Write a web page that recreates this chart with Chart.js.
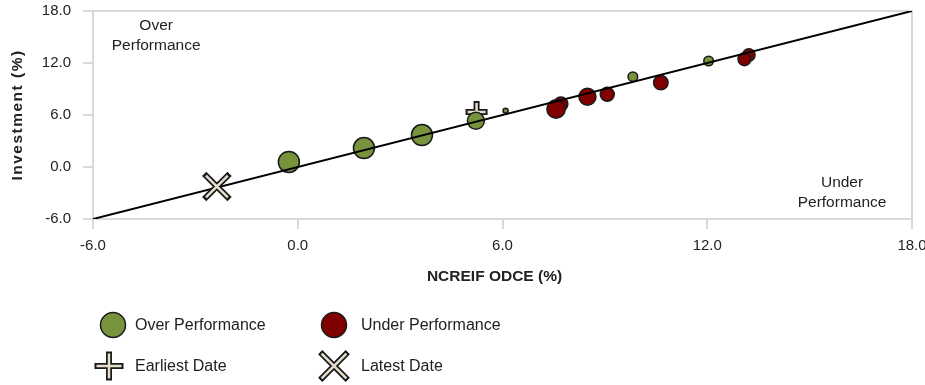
<!DOCTYPE html>
<html>
<head>
<meta charset="utf-8">
<script src="https://cdn.jsdelivr.net/npm/chart.js@4.4.1/dist/chart.umd.min.js"></script>
<style>
	body { margin: 0; background: #fff; }
	#wrap { width: 925px; height: 385px; position: relative; }
</style>
</head>
<body>
<div id="wrap"><canvas id="perf-chart"></canvas></div>
<script>
// values
const overX = [-0.26, 1.94, 3.64, 5.22, 6.09, 9.82, 12.04]
const overY = [0.58, 2.19, 3.69, 5.34, 6.5, 10.42, 12.23]
const overSize = [10.5, 10.5, 10.5, 8.5, 2.5, 4.8, 4.8]

const underX = [7.71, 7.57, 8.49, 9.07, 10.64, 13.22, 13.09]
const underY = [7.26, 6.69, 8.1, 8.38, 9.73, 12.92, 12.43]
const underSize = [7, 9.2, 8.5, 7, 7.2, 6.2, 6.4]

const earliest = [5.24, 6.35]
const latest = [-2.37, -2.25]

const lineX = [-6, 18]
const lineY = [-6, 18]

const axisTicks = [-6, 0, 6, 12, 18]

const GREEN = '#77933c'
const RED = '#800000'
const BEIGE = '#e6ddcc'
const DARK = '#1a1a1a'
const FONT = "'Liberation Sans', Arial, sans-serif"

const toBubbles = (xs, ys, rs) => xs.map((x, i) => ({ x: x, y: ys[i], r: rs[i] }))
const toPoints = (xs, ys) => xs.map((x, i) => ({ x: x, y: ys[i] }))

// outlined marker = thick dark stroke with a thinner beige stroke on top
const marker = (pt, style, r, rInner, order) => [
	{ type: 'scatter', data: [{ x: pt[0], y: pt[1] }], pointStyle: style, pointRadius: r, borderWidth: 6, borderColor: DARK, backgroundColor: DARK, order: order },
	{ type: 'scatter', data: [{ x: pt[0], y: pt[1] }], pointStyle: style, pointRadius: rInner, borderWidth: 2.5, borderColor: BEIGE, backgroundColor: BEIGE, order: order - 0.5 }
]

const drawCross = (ctx, x, y, r, rot) => {
	const pass = (w, col, rr) => {
		ctx.save()
		ctx.translate(x, y)
		if (rot) ctx.rotate(Math.PI / 4)
		ctx.strokeStyle = col
		ctx.lineWidth = w
		ctx.beginPath()
		ctx.moveTo(-rr, 0); ctx.lineTo(rr, 0)
		ctx.moveTo(0, -rr); ctx.lineTo(0, rr)
		ctx.stroke()
		ctx.restore()
	}
	pass(6, DARK, r)
	pass(2.5, BEIGE, r - 2)
}

const extras = {
	id: 'extras',
	beforeDatasetsDraw(chart) {
		const a = chart.chartArea
		const ctx = chart.ctx
		ctx.save()
		ctx.strokeStyle = '#d9d9d9'
		ctx.lineWidth = 2
		ctx.strokeRect(a.left, a.top, a.right - a.left, a.bottom - a.top)
		ctx.restore()
	},
	afterDraw(chart) {
		const ctx = chart.ctx
		const xs = chart.scales.x
		const ys = chart.scales.y
		ctx.save()
		ctx.fillStyle = '#222'
		ctx.textAlign = 'center'
		ctx.textBaseline = 'middle'

		// corner notes
		ctx.font = '15.5px ' + FONT
		ctx.fillText('Over', xs.getPixelForValue(-4.15), 26)
		ctx.fillText('Performance', xs.getPixelForValue(-4.15), 46)
		ctx.fillText('Under', xs.getPixelForValue(15.95), 183)
		ctx.fillText('Performance', xs.getPixelForValue(15.95), 203)

		// axis titles
		ctx.font = 'bold 15.5px ' + FONT
		ctx.fillText('NCREIF ODCE (%)', (xs.left + xs.right) / 2 - 8, 277)
		ctx.save()
		ctx.translate(18, (ys.top + ys.bottom) / 2)
		ctx.rotate(-Math.PI / 2)
		ctx.letterSpacing = '1.5px'
		ctx.fillText('Investment (%)', 0, 0)
		ctx.restore()

		// legend
		ctx.font = '16px ' + FONT
		ctx.textAlign = 'left'
		const circle = (x, y, col) => {
			ctx.beginPath()
			ctx.arc(x, y, 12.5, 0, Math.PI * 2)
			ctx.fillStyle = col
			ctx.fill()
			ctx.lineWidth = 1.5
			ctx.strokeStyle = DARK
			ctx.stroke()
		}
		circle(113, 325, GREEN)
		circle(334, 325, RED)
		drawCross(ctx, 109, 366, 14.5, false)
		drawCross(ctx, 334, 366, 19.5, true)
		ctx.fillStyle = '#222'
		ctx.fillText('Over Performance', 135, 326)
		ctx.fillText('Under Performance', 361, 326)
		ctx.fillText('Earliest Date', 135, 367)
		ctx.fillText('Latest Date', 361, 367)
		ctx.restore()
	}
}

const axisOpts = (fit) => ({
	type: 'linear',
	min: -6,
	max: 18,
	afterBuildTicks: (s) => { s.ticks = axisTicks.map((v) => ({ value: v })) },
	afterFit: fit,
	border: { display: false },
	grid: { drawOnChartArea: false, color: '#d9d9d9', lineWidth: 2, tickLength: 10 },
	ticks: {
		color: '#222',
		font: { family: FONT, size: 15 },
		callback: (v) => v.toFixed(1)
	}
})

const fitX = (s) => {
	s.height = 166
	s.paddingLeft = 0
	s.paddingRight = 0
}
const fitY = (s) => {
	s.width = 93
	s.paddingTop = 0
	s.paddingBottom = 0
}

new Chart('perf-chart', {
	type: 'bubble',
	data: {
		datasets: [
			...marker(earliest, 'cross', 11, 9, 3),
			{
				label: 'Over Performance',
				data: toBubbles(overX, overY, overSize),
				backgroundColor: GREEN,
				borderColor: DARK,
				borderWidth: 1.5,
				order: 2
			},
			{
				label: 'Under Performance',
				data: toBubbles(underX, underY, underSize),
				backgroundColor: RED,
				borderColor: DARK,
				borderWidth: 1.5,
				order: 2
			},
			{
				type: 'scatter',
				data: toPoints(lineX, lineY),
				showLine: true,
				pointRadius: 0,
				borderColor: '#000',
				borderWidth: 2,
				order: 1
			},
			...marker(latest, 'crossRot', 18, 15.5, 0)
		]
	},
	options: {
		responsive: true,
		maintainAspectRatio: false,
		animation: false,
		events: [],
		layout: { autoPadding: false, padding: { left: 0, right: 13, top: 11, bottom: 0 } },
		plugins: { legend: { display: false }, tooltip: { enabled: false } },
		scales: {
			x: { ...axisOpts(fitX), ticks: { ...axisOpts().ticks, padding: 8 } },
			y: { ...axisOpts(fitY), ticks: { ...axisOpts().ticks, padding: 12 } }
		}
	},
	plugins: [extras]
})
</script>
</body>
</html>
